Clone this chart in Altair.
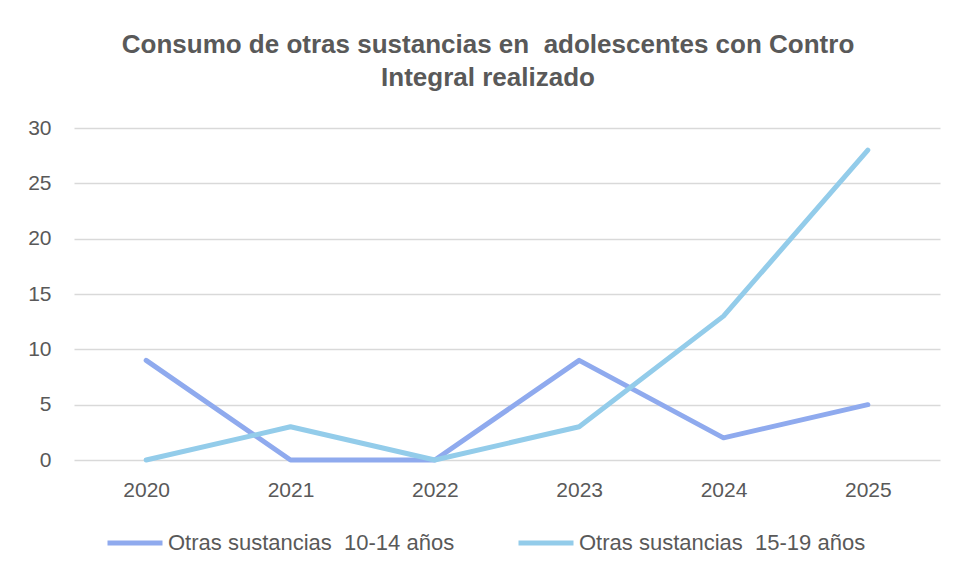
import altair as alt
import pandas as pd

years = ["2020", "2021", "2022", "2023", "2024", "2025"]
series_names = ["Otras sustancias  10-14 años", "Otras sustancias  15-19 años"]
vals_10_14 = [9, 0, 0, 9, 2, 5]
vals_15_19 = [0, 3, 0, 3, 13, 28]
colors = ["#8FAAEE", "#93CCEA"]

legend_names = [n.replace("  ", "\u00a0 ") for n in series_names]
rows = []
for name, vals in zip(legend_names, [vals_10_14, vals_15_19]):
    for y, v in zip(years, vals):
        rows.append({"Año": y, "Serie": name, "Valor": v})
df = pd.DataFrame(rows)

font = "Liberation Sans"
gray = "#595959"

chart = alt.Chart(df).mark_line(strokeWidth=5, strokeCap="round", strokeJoin="round").encode(
    x=alt.X("Año:N", sort=years, title=None,
            scale=alt.Scale(type="point", padding=0.5),
            axis=alt.Axis(labelAngle=0, domain=False, ticks=False, grid=False,
                          labelFontSize=21, labelColor=gray, labelFont=font, labelPadding=19)),
    y=alt.Y("Valor:Q", title=None,
            scale=alt.Scale(domain=[0, 30], nice=False),
            axis=alt.Axis(values=[0, 5, 10, 15, 20, 25, 30], domain=False, ticks=False,
                          gridColor="#D9D9D9", gridWidth=1.5,
                          labelFontSize=21, labelColor=gray, labelFont=font, labelPadding=23)),
    color=alt.Color("Serie:N", sort=legend_names,
                    scale=alt.Scale(domain=legend_names, range=colors),
                    legend=alt.Legend(title=None, orient="none", direction="horizontal",
                                      legendX=31, legendY=385,
                                      symbolType="stroke", symbolSize=3025, symbolStrokeWidth=5,
                                      labelFontSize=22, labelColor=gray, labelFont=font,
                                      labelOffset=3, columnPadding=53, labelLimit=400)),
).properties(
    width=866,
    height=332,
    title=alt.TitleParams(
        text=["Consumo de otras sustancias en\u00a0 adolescentes con Contro", "Integral realizado"],
        fontSize=26, fontWeight="bold", color=gray, font=font,
        anchor="middle", lineHeight=33, offset=26, dx=-19,
    ),
    autosize=alt.AutoSizeParams(type="none"),
    padding={"left": 66, "top": 120, "right": 8, "bottom": 100},
).configure(background="white").configure_view(stroke=None, strokeWidth=0)

chart.save("out.html", embed_options={"renderer": "svg", "actions": False})
